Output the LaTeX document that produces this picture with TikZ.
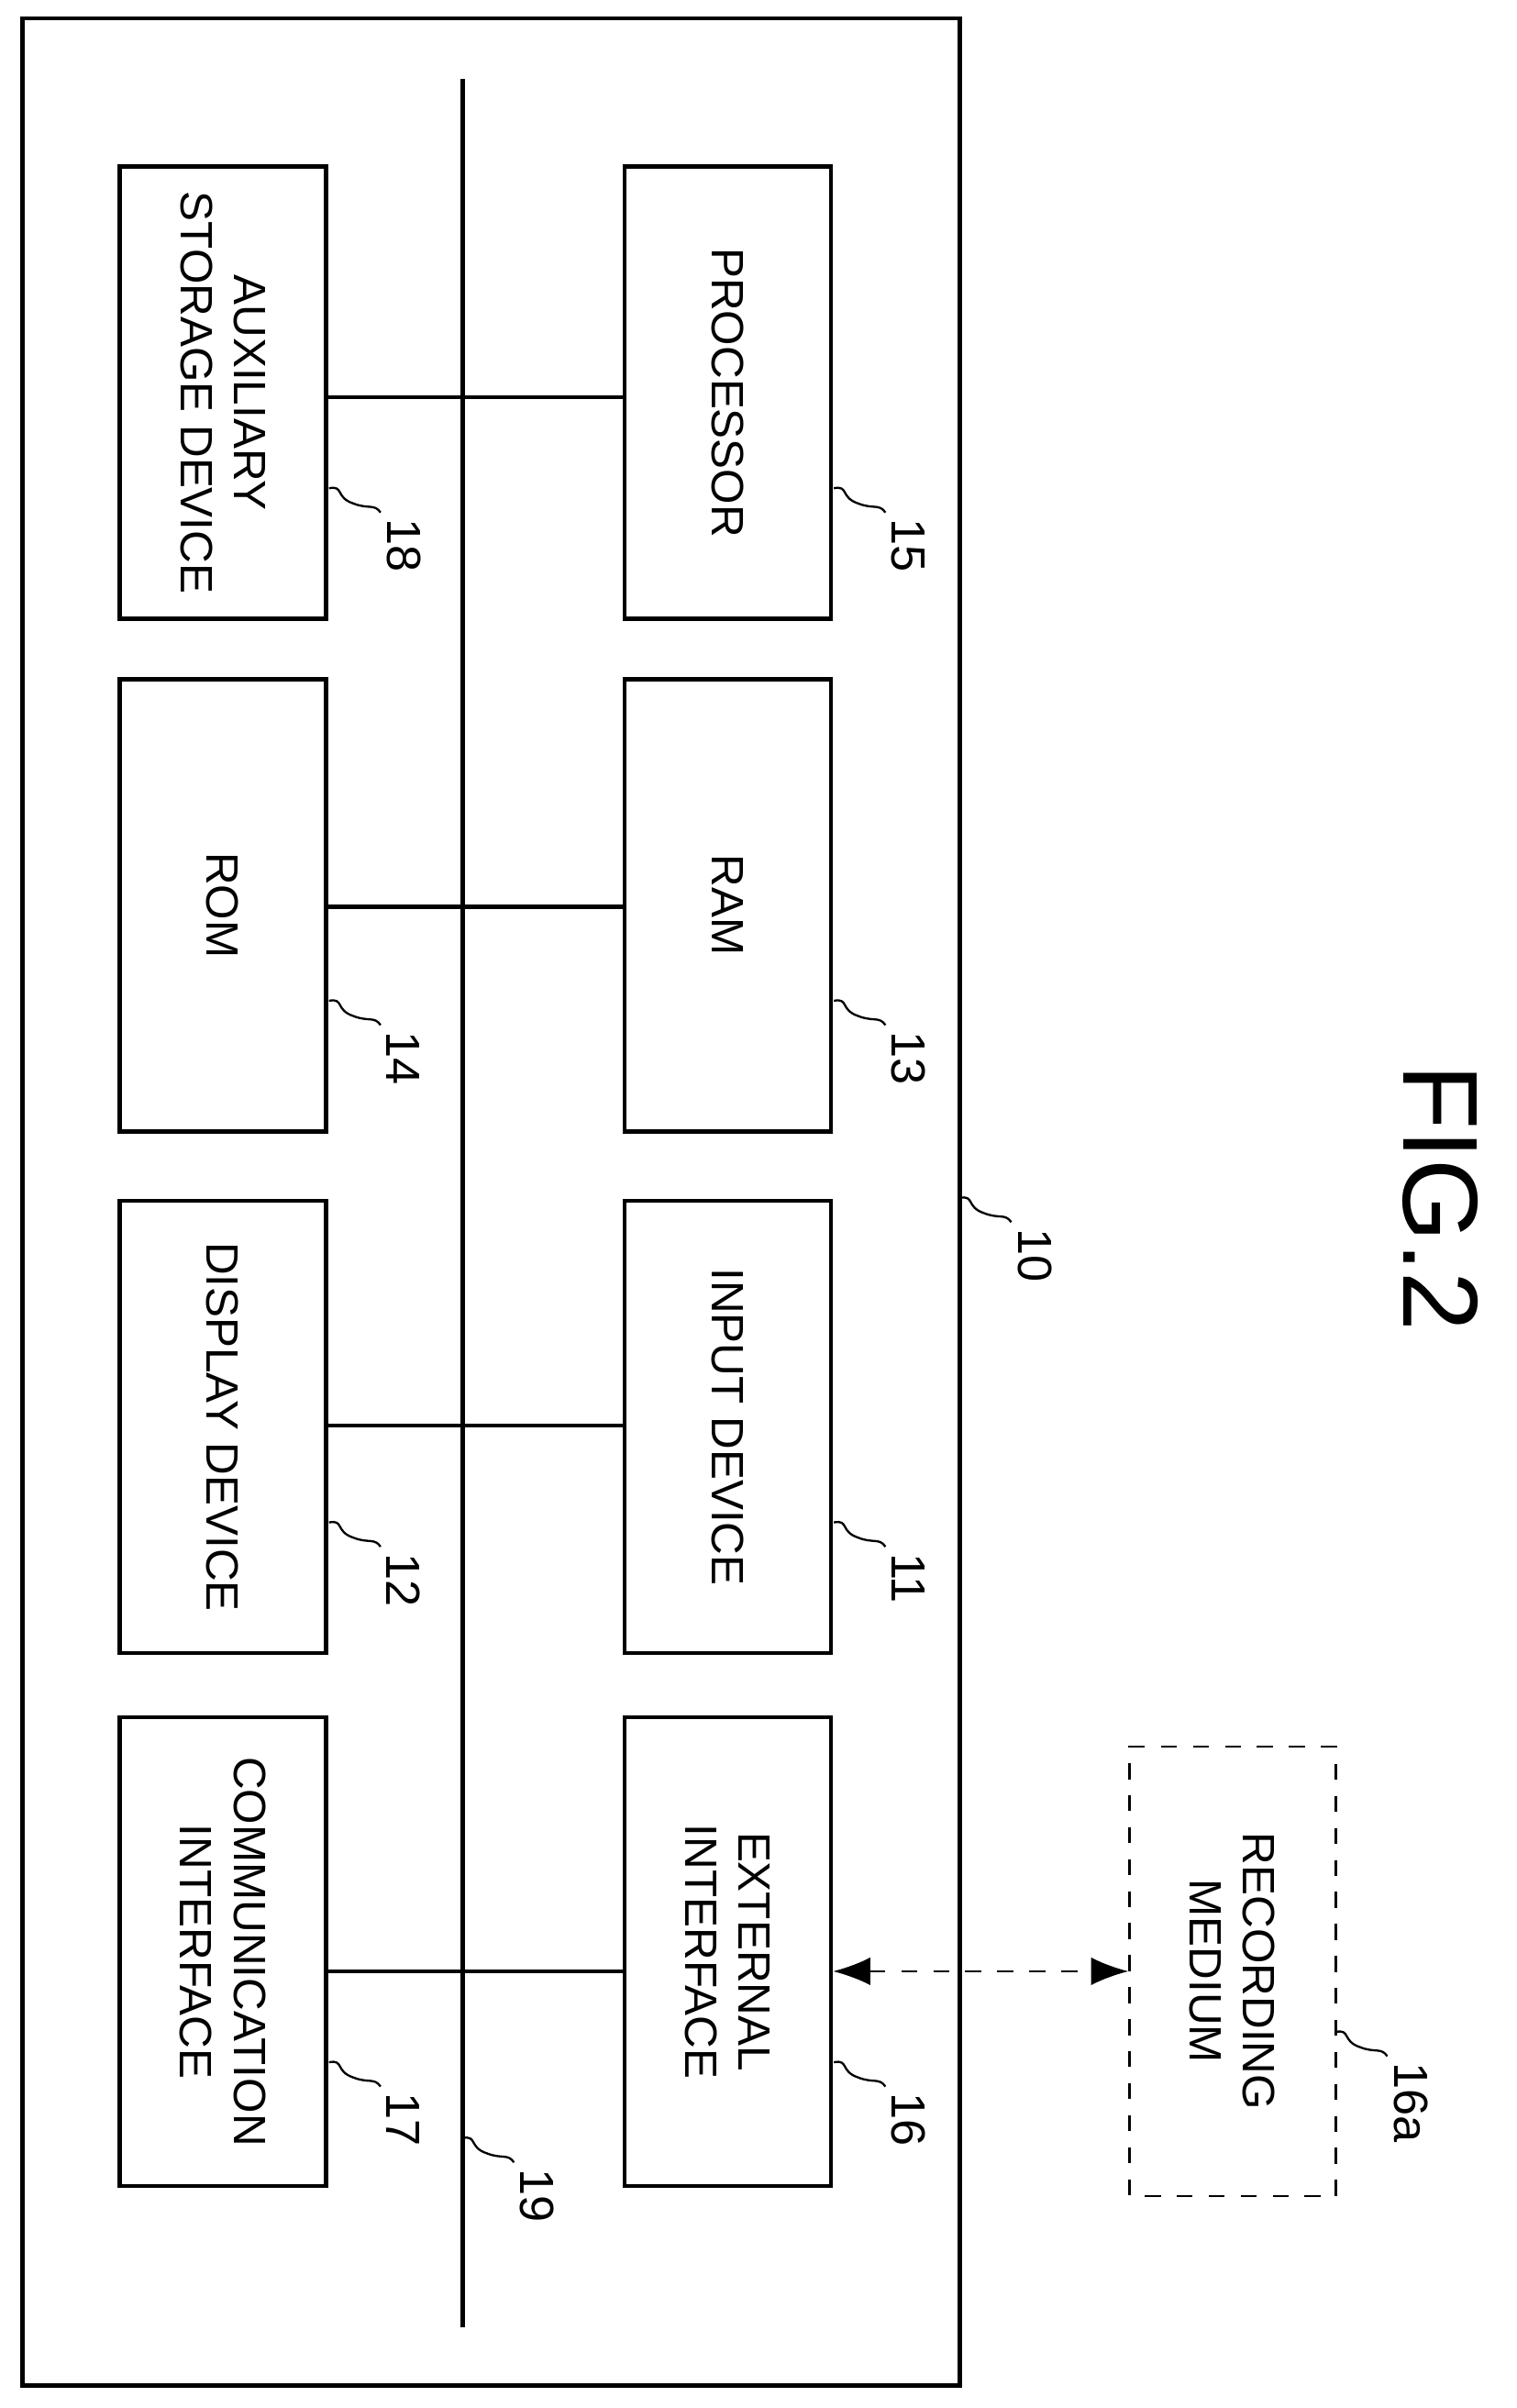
\documentclass[tikz,border=0pt]{standalone}
\usepackage{fontspec}
\setmainfont{Liberation Sans}
\usetikzlibrary{arrows.meta}
\tikzset{
  unit/.style={draw, thick, rotate=-90, minimum width=2.98cm, minimum height=1.36cm,
    align=center, font=\fontsize{8.5}{10}\selectfont, inner sep=0pt},
  refno/.style={rotate=-90, font=\fontsize{9}{10}\selectfont, anchor=north west, inner sep=1pt},
  leader/.style={thin},
}
\newcommand{\refmark}[2]{%
  \draw[leader] #1 .. controls +(10,-2) and +(-12,-4) .. ++(16,10)
    .. controls +(10,4) and +(-4,-6) .. ++(18,6) node[refno, anchor=south west] {#2};}
\begin{document}
\begin{tikzpicture}[x=0.01cm, y=-0.01cm]
    \useasboundingbox (0,0) rectangle (1000,1588);
    % housing
    \draw[thick] (15,12) rectangle (633,1573);
    \coordinate (busTop) at (305,52);
    \coordinate (busEnd) at (305,1535);
    \draw[thick] (busTop) -- (busEnd);
    % units
    \node[unit] (proc) at (480,259) {PROCESSOR};
    \node[unit] (aux) at (147,259) {AUXILIARY\\STORAGE DEVICE};
    \node[unit] (ram) at (480,597) {RAM};
    \node[unit] (rom) at (147,597) {ROM};
    \node[unit] (inp) at (480,941) {INPUT DEVICE};
    \node[unit] (disp) at (147,941) {DISPLAY DEVICE};
    \node[unit, minimum width=3.09cm] (ext) at (480,1287) {EXTERNAL\\INTERFACE};
    \node[unit, minimum width=3.09cm] (comm) at (147,1287) {COMMUNICATION\\INTERFACE};
    \node[unit, dashed, thin, minimum width=2.96cm] (rec) at (813,1300) {RECORDING\\MEDIUM};
    % bus taps
    \draw[thick] (aux.north |- 0,262) -- (proc.south |- 0,262);
    \draw[thick] (rom.north |- 0,598) -- (ram.south |- 0,598);
    \draw[thick] (disp.north |- 0,940) -- (inp.south |- 0,940);
    \draw[thick] (comm.north |- 0,1300) -- (ext.south |- 0,1300);
    \draw[dashed, {Latex[length=7pt]}-{Latex[length=7pt]}] (ext.north |- 0,1300) -- (rec.south |- 0,1300);
    % reference numerals
    \refmark{(550,322)}{15}
    \refmark{(217,322)}{18}
    \refmark{(550,660)}{13}
    \refmark{(217,660)}{14}
    \refmark{(550,1004)}{11}
    \refmark{(217,1004)}{12}
    \refmark{(550,1360)}{16}
    \refmark{(217,1360)}{17}
    \refmark{(305,1410)}{19}
    \refmark{(633,790)}{10}
    \refmark{(881,1340)}{16a}
    \node[rotate=-90, font=\fontsize{20}{22}\selectfont] (fig) at (950,790) {FIG.2};
\end{tikzpicture}
\end{document}
